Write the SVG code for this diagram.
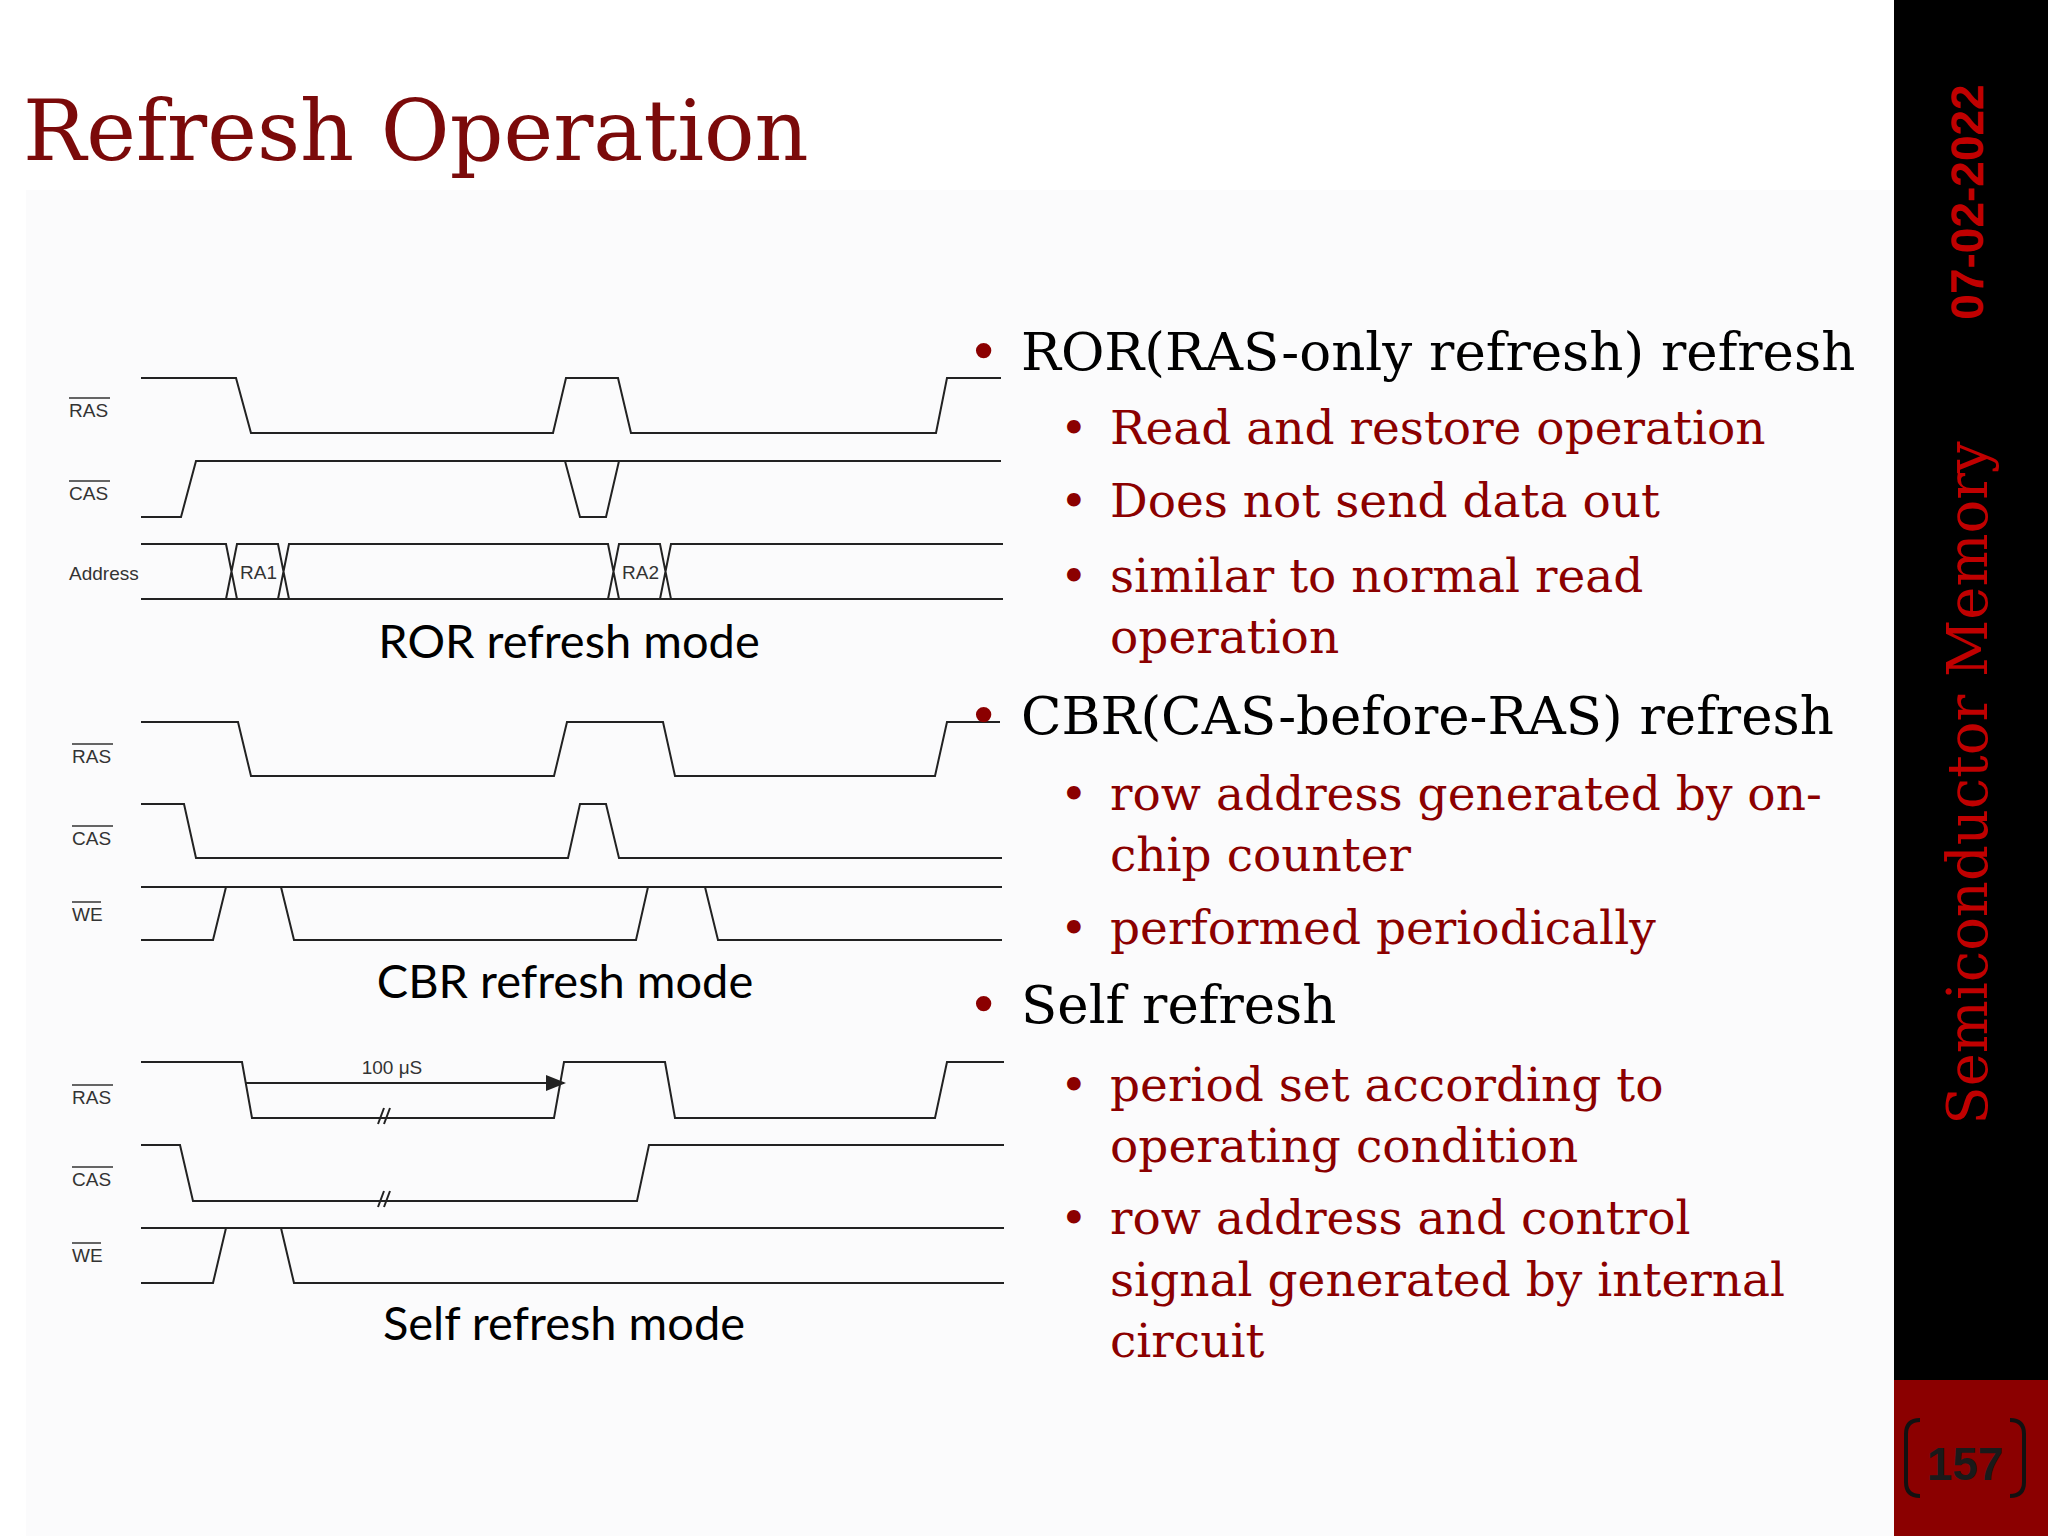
<svg xmlns="http://www.w3.org/2000/svg" width="2048" height="1536" viewBox="0 0 2048 1536">
<style>
.w{fill:none;stroke:#222;stroke-width:2}
.lb{font-family:"Liberation Sans",Arial,sans-serif;font-size:19px;fill:#333}
.cap{font-family:Lato,"Open Sans",sans-serif;font-size:47px;fill:#000;text-anchor:middle}
.b1{font-family:"DejaVu Serif",serif;font-size:53px;fill:#000}
.b2{font-family:"DejaVu Serif",serif;font-size:47px;fill:#8b0000}
.d1{fill:#8b0000}
</style>
<defs><marker id="ah" markerWidth="10" markerHeight="8" refX="9" refY="4" orient="auto"><path d="M0,0L10,4L0,8z" fill="#222"/></marker></defs>
<rect width="2048" height="1536" fill="#fff"/>
<rect x="26" y="190" width="1868" height="1346" fill="#fbfbfc"/>
<rect x="1894" y="0" width="154" height="1380" fill="#000"/>
<rect x="1894" y="1380" width="154" height="156" fill="#8b0000"/>
<text x="23" y="160" font-family="'DejaVu Serif',serif" font-size="84" fill="#7b0a0a">Refresh Operation</text>
<text transform="translate(1983,202) rotate(-90)" text-anchor="middle" font-family="'Liberation Sans',sans-serif" font-weight="bold" font-size="46" fill="#c00000">07-02-2022</text>
<text transform="translate(1987,783) rotate(-90)" text-anchor="middle" font-family="'DejaVu Serif',serif" font-size="56" fill="#c00000">Semiconductor Memory</text>
<g id="pagenum">
<path d="M1920,1420 q-14,0 -14,14 v48 q0,14 14,14" fill="none" stroke="#111" stroke-width="4"/>
<path d="M2010,1420 q14,0 14,14 v48 q0,14 -14,14" fill="none" stroke="#111" stroke-width="4"/>
<text x="1965" y="1480" text-anchor="middle" font-family="'Liberation Sans',sans-serif" font-weight="bold" font-size="46" fill="#1a1a1a">157</text>
</g>
<g id="ror">
<text class="lb" x="69" y="417">RAS</text><line x1="69" y1="398" x2="110" y2="398" stroke="#333" stroke-width="1.5"/>
<text class="lb" x="69" y="500">CAS</text><line x1="69" y1="481" x2="110" y2="481" stroke="#333" stroke-width="1.5"/>
<text class="lb" x="69" y="580">Address</text>
<path class="w" d="M141,378H236L251,433H553L566,378H618L631,433H936L947,378H1001"/>
<path class="w" d="M141,517H181L196,461H1001"/>
<path class="w" d="M565,461L580,517H606L619,461"/>
<path class="w" d="M141,544H226L237,599H141M226,599L237,544H278L289,599H237M278,599L289,544H608L619,599H289M608,599L619,544H660L671,599H619M660,599L671,544H1003M671,599H1003"/>
<text class="lb" x="240" y="579" font-size="18">RA1</text>
<text class="lb" x="622" y="579" font-size="18">RA2</text>
<text class="cap" x="569" y="658">ROR refresh mode</text>
</g>
<g id="cbr">
<text class="lb" x="72" y="763">RAS</text><line x1="72" y1="744" x2="113" y2="744" stroke="#333" stroke-width="1.5"/>
<text class="lb" x="72" y="845">CAS</text><line x1="72" y1="826" x2="113" y2="826" stroke="#333" stroke-width="1.5"/>
<text class="lb" x="72" y="921">WE</text><line x1="72" y1="902" x2="101" y2="902" stroke="#333" stroke-width="1.5"/>
<path class="w" d="M141,722H238L251,776H554L567,722H663L675,776H935L947,722H1000"/>
<path class="w" d="M141,804H184L196,858H568L580,804H606L619,858H1002"/>
<path class="w" d="M141,887H1002M141,940H213L226,887M281,887L294,940H636L648,887M705,887L718,940H1002"/>
<text class="cap" x="565" y="998">CBR refresh mode</text>
</g>
<g id="self">
<text class="lb" x="72" y="1104">RAS</text><line x1="72" y1="1085" x2="113" y2="1085" stroke="#333" stroke-width="1.5"/>
<text class="lb" x="72" y="1186">CAS</text><line x1="72" y1="1167" x2="113" y2="1167" stroke="#333" stroke-width="1.5"/>
<text class="lb" x="72" y="1262">WE</text><line x1="72" y1="1243" x2="101" y2="1243" stroke="#333" stroke-width="1.5"/>
<path class="w" d="M141,1062H242L252,1118H554L564,1062H665L675,1118H935L947,1062H1004"/>
<path class="w" d="M141,1145H180L193,1201H637L649,1145H1004"/>
<path class="w" d="M141,1228H1004M141,1283H213L226,1228M281,1228L294,1283H1004"/>
<line x1="246" y1="1083" x2="564" y2="1083" stroke="#222" stroke-width="2" marker-end="url(#ah)"/>
<path class="w" d="M378,1124L384,1108M384,1124L390,1108M378,1207L384,1191M384,1207L390,1191" stroke-width="1.5"/>
<text class="lb" x="392" y="1074" text-anchor="middle" font-size="19">100 μS</text>
<text class="cap" x="564" y="1340">Self refresh mode</text>
</g>
<g id="bullets">
<text class="b1" x="968" y="370"><tspan class="d1">•</tspan></text><text class="b1" x="1021" y="370">ROR(RAS-only refresh) refresh</text>
<text class="b2" x="1060" y="444">•</text><text class="b2" x="1110" y="444">Read and restore operation</text>
<text class="b2" x="1060" y="517">•</text><text class="b2" x="1110" y="517">Does not send data out</text>
<text class="b2" x="1060" y="592">•</text><text class="b2" x="1110" y="592">similar to normal read</text>
<text class="b2" x="1110" y="653">operation</text>
<text class="b1" x="968" y="734"><tspan class="d1">•</tspan></text><text class="b1" x="1021" y="734">CBR(CAS-before-RAS) refresh</text>
<text class="b2" x="1060" y="810">•</text><text class="b2" x="1110" y="810">row address generated by on-</text>
<text class="b2" x="1110" y="871">chip counter</text>
<text class="b2" x="1060" y="944">•</text><text class="b2" x="1110" y="944">performed periodically</text>
<text class="b1" x="968" y="1023"><tspan class="d1">•</tspan></text><text class="b1" x="1021" y="1023">Self refresh</text>
<text class="b2" x="1060" y="1101">•</text><text class="b2" x="1110" y="1101">period set according to</text>
<text class="b2" x="1110" y="1162">operating condition</text>
<text class="b2" x="1060" y="1234">•</text><text class="b2" x="1110" y="1234">row address and control</text>
<text class="b2" x="1110" y="1296">signal generated by internal</text>
<text class="b2" x="1110" y="1357">circuit</text>
</g>
</svg>
